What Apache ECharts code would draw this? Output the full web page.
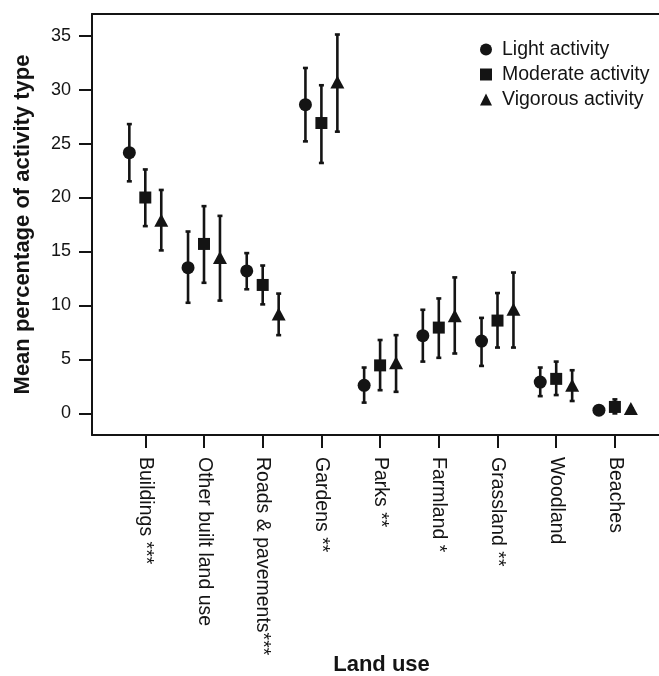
<!DOCTYPE html>
<html>
<head>
<meta charset="utf-8">
<script src="https://cdn.jsdelivr.net/npm/echarts@6/dist/echarts.min.js"></script>
<style>
html,body{margin:0;padding:0;background:#fff;}
#main{width:659px;height:676px;}
</style>
</head>
<body>
<div id="main"></div>
<script>
const categories = ['Buildings ***', 'Other built land use', 'Roads & pavements***', 'Gardens **', 'Parks **', 'Farmland *', 'Grassland **', 'Woodland', 'Beaches'];
const seriesNames = ['Light activity', 'Moderate activity', 'Vigorous activity'];
const lightMean = [24.15, 13.5, 13.2, 28.6, 2.6, 7.2, 6.7, 2.9, 0.3];
const lightLow  = [21.5, 10.25, 11.5, 25.2, 1.0, 4.8, 4.4, 1.6, 0.3];
const lightHigh = [26.8, 16.85, 14.85, 32.0, 4.25, 9.6, 8.85, 4.25, 0.3];
const modMean = [20.0, 15.7, 11.9, 26.9, 4.45, 7.95, 8.6, 3.2, 0.6];
const modLow  = [17.35, 12.1, 10.1, 23.2, 2.15, 5.15, 6.1, 1.7, 0.0];
const modHigh = [22.6, 19.2, 13.7, 30.4, 6.8, 10.65, 11.15, 4.8, 1.3];
const vigMean = [17.9, 14.45, 9.2, 30.7, 4.7, 9.05, 9.65, 2.6, 0.45];
const vigLow  = [15.1, 10.45, 7.25, 26.1, 2.0, 5.55, 6.1, 1.15, 0.45];
const vigHigh = [20.7, 18.3, 11.1, 35.1, 7.25, 12.6, 13.05, 4.0, 0.45];
const yTicks = [0, 5, 10, 15, 20, 25, 30, 35];

const FONT = "'Liberation Sans', Arial, sans-serif";
const INK = '#141414';
const offsets = [-0.272, 0, 0.272];
const symbols = ['circle', 'rect', 'triangle'];
const symbolSizes = [13, 12, [14, 13]];
const means = [lightMean, modMean, vigMean];
const lows = [lightLow, modLow, vigLow];
const highs = [lightHigh, modHigh, vigHigh];

const gridLeft = 92, gridRight = 0, chartW = 659;
const pxPerCat = 58.7, firstCatPx = 145.3;
const xMin = 1 - (firstCatPx - gridLeft) / pxPerCat;
const xMax = xMin + (chartW - gridLeft - gridRight) / pxPerCat;
const catPositions = categories.map((c, i) => i + 1);

const series = [];
seriesNames.forEach((name, s) => {
  series.push({
    type: 'custom',
    name: name + ' err',
    silent: true,
    z: 2,
    data: categories.map((c, i) => [i + 1 + offsets[s], lows[s][i], highs[s][i]]),
    renderItem: function (params, api) {
      const x = api.value(0);
      const lo = api.coord([x, api.value(1)]);
      const hi = api.coord([x, api.value(2)]);
      const cap = 2.5;
      const style = { stroke: INK, lineWidth: 2.6 };
      return {
        type: 'group',
        children: [
          { type: 'line', shape: { x1: lo[0], y1: lo[1], x2: hi[0], y2: hi[1] }, style: style },
          { type: 'line', shape: { x1: lo[0] - cap, y1: lo[1], x2: lo[0] + cap, y2: lo[1] }, style: style },
          { type: 'line', shape: { x1: hi[0] - cap, y1: hi[1], x2: hi[0] + cap, y2: hi[1] }, style: style }
        ]
      };
    }
  });
});
seriesNames.forEach((name, s) => {
  series.push({
    type: 'scatter',
    name: name,
    z: 3,
    symbol: symbols[s],
    symbolSize: symbolSizes[s],
    itemStyle: { color: INK, opacity: 1 },
    data: categories.map((c, i) => [i + 1 + offsets[s], means[s][i]])
  });
});

const chart = echarts.init(document.getElementById('main'), null, { renderer: 'canvas' });
chart.setOption({
  backgroundColor: '#fff',
  animation: false,
  textStyle: { fontFamily: FONT, color: INK },
  grid: { left: gridLeft, right: gridRight, top: 14, bottom: 241, show: false, containLabel: false, outerBoundsMode: 'none' },
  legend: {
    data: seriesNames.map((n, s) => ({ name: n, icon: symbols[s] })),
    orient: 'vertical',
    left: 475,
    top: 34.5,
    itemWidth: 12,
    itemHeight: 12,
    itemGap: 5,
    textStyle: { fontFamily: FONT, fontSize: 19.5, lineHeight: 20, color: INK, padding: [0, 0, 0, 5] },
    itemStyle: { color: INK, opacity: 1 }
  },
  xAxis: [{
    type: 'value',
    min: xMin,
    max: xMax,
    name: 'Land use',
    nameLocation: 'middle',
    nameGap: 219,
    nameMoveOverlap: false,
    nameTextStyle: { fontFamily: FONT, fontSize: 22, fontWeight: 'bold', color: INK, padding: [0, 0, 0, 12] },
    axisLine: { show: true, onZero: false, lineStyle: { color: INK, width: 2 } },
    axisTick: { show: true, customValues: catPositions, length: 13, lineStyle: { color: INK, width: 2 } },
    axisLabel: {
      customValues: catPositions,
      rotate: -90,
      margin: 22,
      fontFamily: FONT,
      fontSize: 19.5,
      color: INK,
      formatter: function (v) { return categories[Math.round(v) - 1] || ''; }
    },
    splitLine: { show: false }
  }, {
    type: 'value',
    position: 'top',
    min: xMin,
    max: xMax,
    axisLine: { show: true, onZero: false, lineStyle: { color: INK, width: 2 } },
    axisTick: { show: false },
    axisLabel: { show: false },
    splitLine: { show: false }
  }],
  yAxis: {
    type: 'value',
    min: -2,
    max: 37,
    name: 'Mean percentage of activity type',
    nameLocation: 'middle',
    nameGap: 58,
    nameMoveOverlap: false,
    nameTextStyle: { fontFamily: FONT, fontSize: 22, fontWeight: 'bold', color: INK },
    axisLine: { show: true, onZero: false, lineStyle: { color: INK, width: 2 } },
    axisTick: { show: true, customValues: yTicks, length: 13, lineStyle: { color: INK, width: 2 } },
    axisLabel: { customValues: yTicks, margin: 21, fontFamily: FONT, fontSize: 18, color: INK },
    splitLine: { show: false }
  },
  series: series
});
</script>
</body>
</html>
